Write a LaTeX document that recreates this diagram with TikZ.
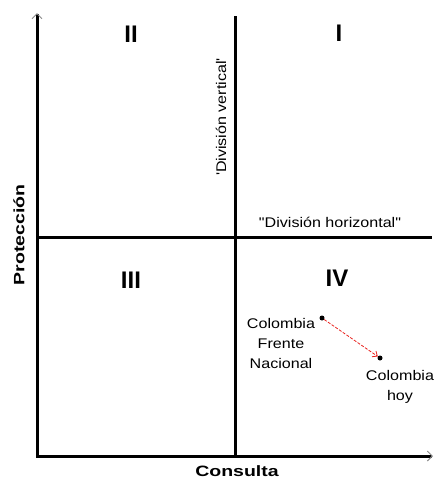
\documentclass[tikz,border=0pt]{standalone}
\usepackage{fontspec}
\setmainfont{Liberation Sans}
\newfontfamily\labfont{Liberation Sans}[FakeStretch=1.15]
\newfontfamily\axfont{Liberation Sans}[FakeStretch=1.3]
\usepackage{xcolor}
\usetikzlibrary{arrows.meta}
\definecolor{tipgray}{HTML}{8A8A8A}
\definecolor{moved}{HTML}{E8201C}

\begin{document}
\begin{tikzpicture}[
  x=1pt, y=-1pt,
  every node/.style={font=\labfont\fontsize{14}{20}\selectfont},
  axis/.style={line width=3pt, -{Straight Barb[length=5pt,width=10pt,line width=1pt,color=tipgray]}},
  divider/.style={line width=3pt},
  quad/.style={font=\fontsize{24}{24}\selectfont\bfseries},
  axlab/.style={font=\axfont\fontsize{15}{15}\selectfont\bfseries},
  pt/.style={circle, fill=black, inner sep=0pt, minimum size=5pt},
  moveline/.style={->, >={Straight Barb[length=4pt,width=7pt]}, draw=moved, thick, dash pattern=on 3pt off 1.5pt},
  txt/.style={align=center}
]
\useasboundingbox (0,0) rectangle (435,482);

\coordinate (origin) at (37,456);
\coordinate (ytop) at (37,13);
\coordinate (xend) at (433,456);
\coordinate (vtop) at (235,16);
\coordinate (vbot) at (235,456);
\coordinate (hleft) at (37,237);
\coordinate (hright) at (432,237);

% quadrant dividers
\draw[divider] (vtop) -- (vbot);
\draw[divider] (hleft) -- (hright);

% axes
\draw[axis] (origin) -- (ytop);
\draw[axis] (origin) -- (xend);
\draw[divider, line cap=rect] (37,456) -- (40,456);

\node[axlab, rotate=90] (prot) at (19,235) {Protección};
\node[axlab] (cons) at (237,471) {Consulta};

\node[quad] (q2) at (131,34) {II};
\node[quad] (q1) at (339,33) {I};
\node[quad] (q3) at (131,280) {III};
\node[quad] (q4) at (337,278) {IV};

\node (vlab) at (221,117) [rotate=90] {'División vertical'};
\node (hlab) at (330,222) {"División horizontal"};

\node[pt] (fn) at (322,318) {};
\node[pt] (hoy) at (380,358) {};
\draw[moveline] (fn) -- (hoy);

\node[txt] (fnlab) at (281,343) {Colombia\\Frente\\Nacional};
\node[txt] (hoylab) at (400,387) {Colombia\\hoy};
\end{tikzpicture}
\end{document}
